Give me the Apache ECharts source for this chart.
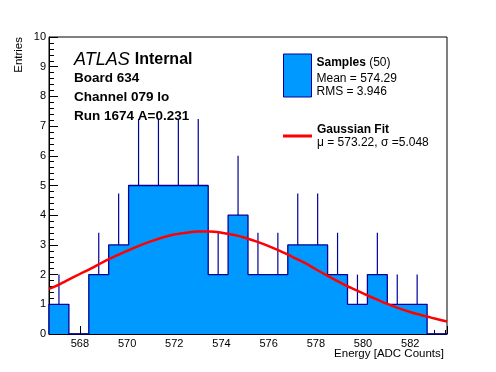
<!DOCTYPE html>
<html><head><meta charset="utf-8">
<script src="https://cdn.jsdelivr.net/npm/echarts@6/dist/echarts.min.js"></script>
<style>html,body{margin:0;padding:0;background:#fff}#c{width:496px;height:372px}</style>
</head><body><div id="c"></div>
<script>
// ---- data ----
const histMin = 566.69;
const histMax = 583.56;
const binCounts = [1, 0, 2, 3, 5, 5, 5, 5, 2, 4, 2, 2, 3, 3, 2, 1, 2, 1, 1, 0];
const binErrors = [1, 0, 1.41, 1.73, 2.24, 2.24, 2.24, 2.24, 1.41, 2, 1.41, 1.41, 1.73, 1.73, 1.41, 1, 1.41, 1, 1, 0];
const fitX = [566.69, 567.0, 567.5, 568.0, 568.5, 569.0, 569.5, 570.0, 570.5, 571.0, 571.5, 572.0, 572.5, 573.0, 573.5,
  574.0, 574.5, 575.0, 575.5, 576.0, 576.5, 577.0, 577.5, 578.0, 578.5, 579.0, 579.5, 580.0, 580.5, 581.0, 581.5,
  582.0, 582.5, 583.0, 583.56];
const fitY = [1.52, 1.62, 1.82, 2.02, 2.22, 2.43, 2.62, 2.80, 2.97, 3.12, 3.25, 3.35, 3.41, 3.45, 3.45,
  3.41, 3.34, 3.24, 3.11, 2.96, 2.79, 2.60, 2.41, 2.18, 1.96, 1.75, 1.55, 1.37, 1.19, 1.02, 0.87,
  0.74, 0.63, 0.53, 0.42];
const yTickInterval = 1;
const xSplitNumber = 8;
const xAxisTitle = 'Energy [ADC Counts]';
const yAxisTitle = 'Entries';
const labelLines = ['Board 634', 'Channel 079 lo', 'Run 1674 A=0.231'];
const sampleStats = ['Samples', '(50)', 'Mean = 574.29', 'RMS = 3.946'];
const fitStats = ['Gaussian Fit', '\u03bc = 573.22, \u03c3 =5.048'];

// ---- build ----
const nBins = binCounts.length;
const binW = (histMax - histMin) / nBins;
const stepData = [[histMin, 0]];
for (let i = 0; i < nBins; i++) stepData.push([histMin + i * binW, binCounts[i]]);
stepData.push([histMax, binCounts[nBins - 1]]);
stepData.push([histMax, 0]);
const errData = binCounts.map((c, i) => [histMin + (i + 0.5) * binW, c - binErrors[i], c + binErrors[i]]);
const fitData = fitX.map((x, i) => [x, fitY[i]]);

const FONT = 'Liberation Sans';
const chart = echarts.init(document.getElementById('c'), null, {renderer: 'canvas'});
chart.setOption({
  animation: false,
  backgroundColor: '#fff',
  textStyle: {fontFamily: FONT},
  grid: {left: 49, right: 49, top: 37, bottom: 38, show: true, borderColor: '#000', borderWidth: 1,
    backgroundColor: 'transparent', containLabel: false, outerBoundsMode: 'none'},
  title: {
    left: 74, top: 50.5, padding: 0,
    text: '{a|ATLAS} {i|Internal}\n{c|' + labelLines[0] + '}\n{c|' + labelLines[1] + '}\n{c|' + labelLines[2] + '}',
    textStyle: {
      fontWeight: 'normal',
      rich: {
        a: {fontFamily: FONT, fontStyle: 'italic', fontWeight: 'normal', fontSize: 18, color: '#000', lineHeight: 18},
        i: {fontFamily: FONT, fontWeight: 'bold', fontSize: 16, color: '#000', lineHeight: 18},
        c: {fontFamily: FONT, fontWeight: 'bold', fontSize: 13.5, color: '#000', lineHeight: 19}
      }
    }
  },
  legend: [
    {
      left: 283, top: 53.5, padding: 0, orient: 'vertical',
      data: ['Samples'], icon: 'rect', itemWidth: 28, itemHeight: 43,
      itemStyle: {color: '#0099ff', borderColor: '#00009a', borderWidth: 1},
      formatter: () => '{b|' + sampleStats[0] + '}{r| ' + sampleStats[1] + '}\n{m|' + sampleStats[2] + '}\n{m|' + sampleStats[3] + '}',
      textStyle: {rich: {
        b: {fontFamily: FONT, fontWeight: 'bold', fontSize: 12, color: '#000', lineHeight: 19},
        r: {fontFamily: FONT, fontSize: 12, color: '#000', lineHeight: 19},
        m: {fontFamily: FONT, fontSize: 12, color: '#000', lineHeight: 13}
      }}
    },
    {
      left: 283, top: 123.5, padding: 0, orient: 'vertical',
      data: ['Gaussian Fit'], icon: 'rect', itemWidth: 29, itemHeight: 3,
      itemStyle: {color: '#ff0000', borderWidth: 0},
      formatter: () => '{b|' + fitStats[0] + '}\n{m|' + fitStats[1] + '}',
      textStyle: {rich: {
        b: {fontFamily: FONT, fontWeight: 'bold', fontSize: 12, color: '#000', lineHeight: 13},
        m: {fontFamily: FONT, fontSize: 12, color: '#000', lineHeight: 13}
      }}
    }
  ],
  xAxis: {
    type: 'value', min: histMin, max: histMax, splitNumber: xSplitNumber,
    axisLine: {show: true, onZero: false, lineStyle: {color: '#000', width: 1}},
    axisTick: {show: true, inside: true, length: 8, lineStyle: {color: '#000'}},
    minorTick: {show: true, splitNumber: 4, length: 4, lineStyle: {color: '#000'}},
    axisLabel: {fontFamily: FONT, fontSize: 11, color: '#000', margin: 4, showMinLabel: false, showMaxLabel: false},
    splitLine: {show: false}
  },
  yAxis: {
    type: 'value', min: 0, max: 10, interval: yTickInterval,
    axisLine: {show: true, lineStyle: {color: '#000', width: 1}},
    axisTick: {show: true, inside: true, length: 9, lineStyle: {color: '#000'}},
    minorTick: {show: true, splitNumber: 5, length: 5, lineStyle: {color: '#000'}},
    axisLabel: {fontFamily: FONT, fontSize: 11, color: '#000', margin: 3},
    splitLine: {show: false}
  },
  graphic: [
    {
      type: 'text', x: 19, y: 37, rotation: Math.PI / 2,
      style: {text: yAxisTitle, fontFamily: FONT, fontSize: 11.5, fill: '#000', align: 'right', verticalAlign: 'middle'}
    },
    {
      type: 'text', x: 444, y: 353.5,
      style: {text: xAxisTitle, fontFamily: FONT, fontSize: 11.5, fill: '#000', align: 'right', verticalAlign: 'middle'}
    }
  ],
  series: [
    {
      type: 'custom', name: 'errors', z: 1, silent: true,
      data: errData,
      renderItem: (params, api) => {
        const top = api.coord([api.value(0), api.value(2)]);
        const bot = api.coord([api.value(0), api.value(1)]);
        return {type: 'line', shape: {x1: top[0], y1: top[1], x2: bot[0], y2: bot[1]},
          style: {stroke: '#00009a', lineWidth: 1.2}};
      }
    },
    {
      type: 'line', name: 'Samples', z: 2, step: 'end', symbol: 'none',
      data: stepData,
      lineStyle: {color: '#00009a', width: 1.3},
      itemStyle: {color: '#0099ff'},
      areaStyle: {color: '#0099ff', opacity: 1}
    },
    {
      type: 'line', name: 'Gaussian Fit', z: 3, symbol: 'none', smooth: 0.3,
      data: fitData,
      lineStyle: {color: '#ff0000', width: 2.5},
      itemStyle: {color: '#ff0000'}
    }
  ]
});
</script>
</body></html>
